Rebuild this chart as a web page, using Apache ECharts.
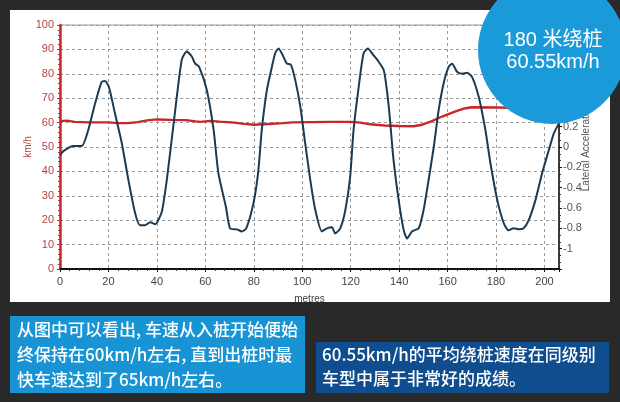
<!DOCTYPE html>
<html>
<head>
<meta charset="utf-8">
<script src="https://cdn.jsdelivr.net/npm/echarts@6/dist/echarts.min.js"></script>
<style>
html,body{margin:0;padding:0;background:#292929;}
#c{width:620px;height:402px;}
</style>
</head>
<body>
<div id="c"></div>
<script>
// X axis: distance in metres
const xTickLabels = [0, 20, 40, 60, 80, 100, 120, 140, 160, 180, 200];
// Lateral acceleration (right axis, g)
const accelDist = [0, 1.4, 5.5, 9, 11.7, 14.5, 17.2, 18.6, 20.2, 22.7, 25.5, 28.2, 31, 33, 35.1, 37.2, 39.3, 42, 44.1, 46.1, 48.2, 50.3, 52.3, 54.4, 55.8, 57.4, 60.6, 63.4, 65.4, 68.5, 70.2, 73, 75.1, 76.9, 79.9, 81.9, 83.3, 85.4, 87.5, 88.8, 90.2, 91.6, 93.7, 95.3, 97.1, 99.2, 101.2, 103.3, 105.4, 108.1, 110.2, 112.3, 113.6, 115.7, 117.8, 119.8, 121.2, 123.3, 125.3, 127.1, 129.5, 131.5, 133.6, 134.5, 135.8, 137.7, 139.8, 141.9, 143.3, 145.3, 148.1, 150.1, 152.2, 154.3, 156.3, 158.4, 160.5, 161.9, 163.9, 166, 168.1, 170.1, 172.9, 175.6, 177.7, 180.5, 183.2, 185.2, 187.3, 189.4, 191.4, 193.5, 196.3, 199, 201.8, 203.8, 205.9];
const accelValues = [-0.08, -0.04, 0.01, 0.01, 0.17, 0.43, 0.64, 0.65, 0.59, 0.33, 0.04, -0.32, -0.65, -0.77, -0.77, -0.74, -0.76, -0.64, -0.32, 0.07, 0.49, 0.86, 0.94, 0.89, 0.82, 0.79, 0.56, 0.17, -0.26, -0.59, -0.80, -0.81, -0.83, -0.80, -0.55, -0.23, 0.17, 0.56, 0.79, 0.92, 0.97, 0.92, 0.82, 0.81, 0.66, 0.40, 0.04, -0.32, -0.62, -0.83, -0.80, -0.79, -0.85, -0.80, -0.62, -0.29, 0.17, 0.59, 0.92, 0.97, 0.90, 0.84, 0.76, 0.64, 0.38, -0.13, -0.52, -0.82, -0.90, -0.83, -0.80, -0.62, -0.32, 0.00, 0.36, 0.63, 0.79, 0.82, 0.74, 0.72, 0.73, 0.69, 0.49, 0.17, -0.16, -0.52, -0.75, -0.82, -0.80, -0.81, -0.80, -0.72, -0.52, -0.26, -0.03, 0.13, 0.23];
// Speed (left axis, km/h)
const speedDist = [0, 3, 6, 12, 20, 24, 28, 32, 36, 40, 46, 52, 56, 58, 62, 66, 72, 76, 80, 86, 92, 96, 104, 112, 120, 124, 128, 134, 140, 146, 149, 153, 158, 163, 167, 170, 180, 186, 206];
const speedValues = [60.6, 60.8, 60.3, 60.1, 60.1, 59.8, 59.8, 60.2, 60.9, 61.3, 61.1, 61.0, 60.5, 60.3, 60.7, 60.4, 60.0, 59.5, 59.1, 59.4, 59.8, 60.1, 60.2, 60.3, 60.3, 60.0, 59.3, 58.8, 58.6, 58.5, 59.0, 60.4, 62.6, 64.5, 65.8, 66.3, 66.2, 66.1, 66.2];

const badgeLines = ['180 米绕桩', '60.55km/h'];
const note1Lines = ['从图中可以看出, 车速从入桩开始便始', '终保持在60km/h左右, 直到出桩时最', '快车速达到了65km/h左右。'];
const note2Lines = ['60.55km/h的平均绕桩速度在同级别', '车型中属于非常好的成绩。'];

const accelData = accelDist.map((d, i) => [d, accelValues[i]]);
const speedData = speedDist.map((d, i) => [d, speedValues[i]]);

const cjk = '"Noto Sans CJK SC", "Liberation Sans", sans-serif';
const latinCjk = '"Liberation Sans", "Noto Sans CJK SC", sans-serif';
const graphics = [
  {type: 'rect', z: -10, shape: {x: 10, y: 10, width: 600, height: 292}, style: {fill: '#ffffff'}},
  {type: 'rect', z: 10, shape: {x: 10, y: 316, width: 295, height: 77}, style: {fill: '#1893d3'}},
  {type: 'rect', z: 10, shape: {x: 316, y: 342, width: 293, height: 51}, style: {fill: '#0f4d8e'}},
  {type: 'circle', z: 100, shape: {cx: 552, cy: 50, r: 74}, style: {fill: '#1a9ad9'}}
];
badgeLines.forEach((t, i) => graphics.push({type: 'text', z: 101, style: {text: t, x: 553, y: 40 + i * 22, fill: '#ffffff', font: '20px ' + latinCjk, textAlign: 'center', textVerticalAlign: 'middle'}}));
note1Lines.forEach((t, i) => graphics.push({type: 'text', z: 11, style: {text: t, x: 17, y: 330 + i * 25, fill: '#ffffff', font: '500 17px ' + cjk, textAlign: 'left', textVerticalAlign: 'middle'}}));
note2Lines.forEach((t, i) => graphics.push({type: 'text', z: 11, style: {text: t, x: 322, y: 355 + i * 24, fill: '#ffffff', font: '500 17px ' + cjk, textAlign: 'left', textVerticalAlign: 'middle'}}));

const chart = echarts.init(document.getElementById('c'));
chart.setOption({
  animation: false,
  backgroundColor: '#292929',
  textStyle: {fontFamily: '"Liberation Sans", Arial, sans-serif'},
  grid: {left: 60, right: 61, top: 25, bottom: 133, show: true, borderColor: '#999', borderWidth: 1, backgroundColor: '#ffffff'},
  xAxis: {
    type: 'value', min: 0, max: 206, interval: 20,
    name: 'metres', nameLocation: 'middle', nameGap: 25, nameMoveOverlap: false,
    nameTextStyle: {color: '#444', fontSize: 10},
    axisLine: {show: true, onZero: false, lineStyle: {color: '#111', width: 2}},
    axisTick: {show: true, length: 3, lineStyle: {color: '#111'}},
    minorTick: {show: true, splitNumber: 5, length: 2, lineStyle: {color: '#333'}},
    axisLabel: {color: '#444', fontSize: 11, margin: 7, showMaxLabel: false,
      formatter: v => xTickLabels.indexOf(v) >= 0 ? String(v) : ''},
    splitLine: {show: true, lineStyle: {color: '#999', type: [3, 3], width: 1}}
  },
  yAxis: [
    {
      type: 'value', min: 0, max: 100, interval: 10, position: 'left',
      name: 'km/h', nameLocation: 'middle', nameGap: 27, nameRotate: 90, nameMoveOverlap: false,
      nameTextStyle: {color: '#b8413f', fontSize: 10},
      axisLine: {show: true, onZero: false, lineStyle: {color: '#c42a2a', width: 2.5}},
      axisTick: {show: true, length: 3, lineStyle: {color: '#c42a2a'}},
      minorTick: {show: true, splitNumber: 5, length: 2, lineStyle: {color: '#c42a2a'}},
      axisLabel: {color: '#b8413f', fontSize: 11, margin: 6},
      splitLine: {show: true, lineStyle: {color: '#999', type: [3, 3], width: 1}}
    },
    {
      type: 'value', min: -1.2, max: 1.2, interval: 0.2, position: 'right',
      name: 'Lateral Acceleration', nameLocation: 'middle', nameGap: 22, nameRotate: 90, nameMoveOverlap: false,
      nameTextStyle: {color: '#555', fontSize: 10},
      axisLine: {show: true, onZero: false, lineStyle: {color: '#111', width: 1.5}},
      axisTick: {show: true, length: 3, lineStyle: {color: '#111'}},
      minorTick: {show: true, splitNumber: 3, length: 2, lineStyle: {color: '#333'}},
      axisLabel: {color: '#555', fontSize: 11, margin: 4,
        formatter: v => Math.abs(v) > 1.05 ? '' : String(+v.toFixed(1))},
      splitLine: {show: false}
    }
  ],
  series: [
    {type: 'line', name: 'Speed', yAxisIndex: 0, data: speedData, symbol: 'none',
      lineStyle: {color: '#c8262a', width: 2.4}, z: 3},
    {type: 'line', name: 'Lateral Acceleration', yAxisIndex: 1, data: accelData, symbol: 'none', smooth: 0.2,
      lineStyle: {color: '#1c3a52', width: 2}, z: 4}
  ],
  graphic: graphics
});
</script>
</body>
</html>
